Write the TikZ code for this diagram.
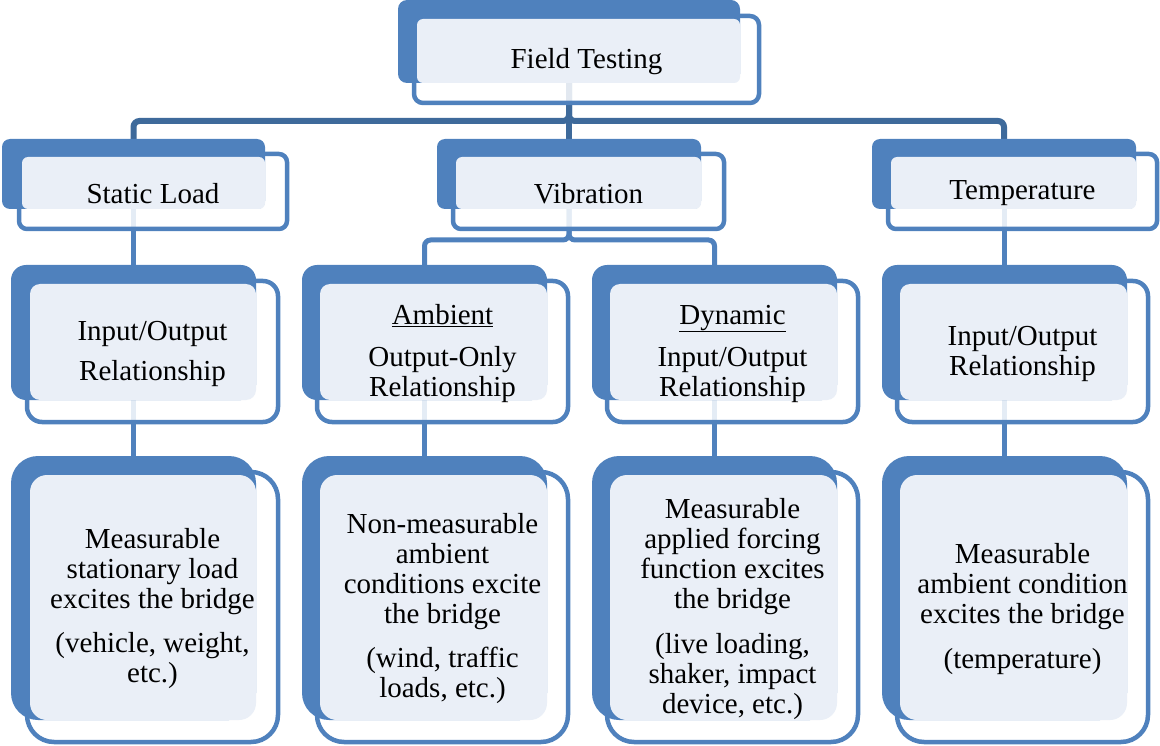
\documentclass[tikz,border=0pt]{standalone}
\usepackage{fontspec}
\setmainfont{Liberation Serif}
\usetikzlibrary{fit,calc}
\pgfdeclarelayer{background}
\pgfsetlayers{background,main}
\definecolor{bblue}{RGB}{79,129,189}
\definecolor{lfill}{RGB}{234,239,247}
\definecolor{cdark}{RGB}{62,106,155}
\tikzset{
  frontbox/.style={draw=bblue, line width=4.5pt, fill=white, fill opacity=0.85},
  backbox/.style={fill=bblue},
  lightbox/.style={fill=lfill},
  txt/.style={align=center, font=\fontsize{29}{30}\selectfont, inner sep=0pt, yshift=-2pt},
  conntop/.style={draw=cdark, line width=6pt, rounded corners=6pt},
  conn/.style={draw=bblue, line width=5pt, rounded corners=6pt},
  geom/.style={inner sep=0pt, outer sep=0pt}
}
% #1 name, #2 back corners, #3 front corners, #4 radius, #5 light radius, #6 text
\newcommand\mycard[6]{%
  \node[geom, fit={#2}] (#1b) {};
  \node[geom, fit={#3}] (#1f) {};
  \path[frontbox, rounded corners=#4pt] (#1f.north west) rectangle (#1f.south east);
  \path[backbox, rounded corners=#4pt] (#1b.north west) rectangle (#1b.south east);
  \path[lightbox, rounded corners=#5pt] ($(#1f.north west)+(3,3)$) rectangle (#1b.south east);
  \node[txt] (#1t) at (#1f.center) {#6};
}
\begin{document}
\begin{tikzpicture}[x=1pt, y=-1pt]
\useasboundingbox (0,0) rectangle (1160,746);

% level 1
\mycard{ft}{(398,0) (740,83)}{(414,16) (759,103)}{9}{6}{Field Testing}
% level 2
\mycard{sl}{(2,139) (265,209)}{(19,154) (287,229)}{8}{6}{Static Load}
\mycard{vb}{(437,139) (701,209)}{(453,154) (724,229)}{8}{6}{Vibration}
\mycard{tp}{(872,139) (1136,209)}{(888,154) (1157,229)}{8}{6}{Temperature}
% level 3
\mycard{slr}{(11,265) (256,400)}{(27,281) (278,422)}{15}{10}{Input/Output\\[10pt]Relationship}
\mycard{am}{(302,265) (547,400)}{(317,281) (568,422)}{15}{10}{\underline{Ambient}\\[12pt]Output-Only\\Relationship}
\mycard{dy}{(592,265) (837,400)}{(607,281) (858,422)}{15}{10}{\underline{Dynamic}\\[12pt]Input/Output\\Relationship}
\mycard{tpr}{(882,265) (1127,400)}{(897,281) (1148,422)}{15}{10}{Input/Output\\Relationship}
% level 4
\mycard{sld}{(11,456) (256,720)}{(27,472) (278,742)}{27}{17}{Measurable\\stationary load\\excites the bridge\\[14pt](vehicle, weight,\\etc.)}
\mycard{amd}{(302,456) (547,720)}{(317,472) (568,742)}{27}{17}{Non-measurable\\ambient\\conditions excite\\the bridge\\[14pt](wind, traffic\\loads, etc.)}
\mycard{dyd}{(592,456) (837,720)}{(607,472) (858,742)}{27}{17}{Measurable\\applied forcing\\function excites\\the bridge\\[15pt](live loading,\\shaker, impact\\device, etc.)}
\mycard{tpd}{(882,456) (1127,720)}{(897,472) (1148,742)}{27}{17}{Measurable\\ambient condition\\excites the bridge\\[15pt](temperature)}

\begin{pgfonlayer}{background}
  % level 1 -> 2
  \draw[conntop] (ftb.south) |- ($(slb.north)+(0,-18)$) -- (slb.north);
  \draw[conntop] (ftb.south) |- ($(tpb.north)+(0,-18)$) -- (tpb.north);
  \draw[conntop] (ftb.south) -- (ftb.south |- vbb.north);
  % level 2 -> 3
  \draw[conn] (slb.south) -- (slb.south |- slrb.north);
  \draw[conn] (vbb.south) |- ($(amb.north)+(0,-25)$) -- (amb.north);
  \draw[conn] (vbb.south) |- ($(dyb.north)+(0,-25)$) -- (dyb.north);
  \draw[conn] (tpb.south) -- (tpb.south |- tprb.north);
  % level 3 -> 4
  \draw[conn] (slrb.south) -- (sldb.north);
  \draw[conn] (amb.south) -- (amdb.north);
  \draw[conn] (dyb.south) -- (dydb.north);
  \draw[conn] (tprb.south) -- (tpdb.north);
\end{pgfonlayer}
\end{tikzpicture}
\end{document}
